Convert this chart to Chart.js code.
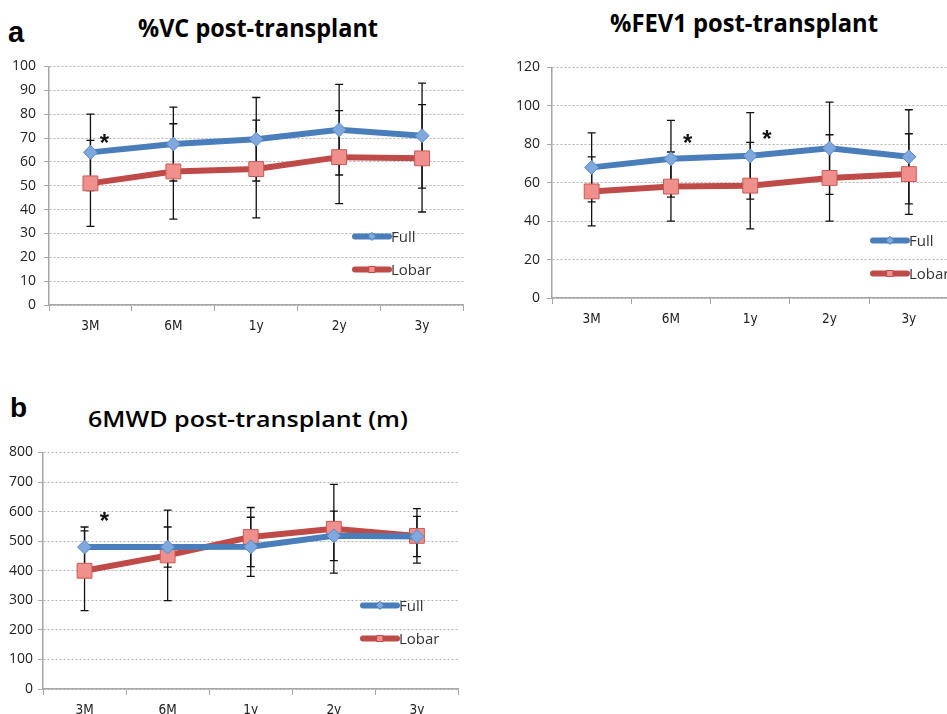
<!DOCTYPE html>
<html>
<head>
<meta charset="utf-8">
<script src="https://cdn.jsdelivr.net/npm/chart.js@4/dist/chart.umd.min.js"></script>
<style>
  html, body { margin: 0; padding: 0; background: #fff; overflow: hidden; width: 947px; height: 714px; }
  .box { position: absolute; }
  .lbl { position: absolute; white-space: nowrap; line-height: 1; color: #000; transform-origin: 0 0; }
  .letter { font-family: "Liberation Sans", Arial, sans-serif; font-weight: bold; }
  .ttl { font-family: "Open Sans", sans-serif; font-weight: 700; }
  .ttlb { font-family: "Open Sans", sans-serif; font-weight: 600; }
</style>
</head>
<body>
<div class="lbl letter" style="left:8px;top:18px;font-size:29px">a</div>
<div class="lbl ttl" data-w="240" style="left:138px;top:15px;font-size:25px">%VC post-transplant</div>
<div class="lbl ttl" data-w="268" style="left:610px;top:10px;font-size:25px">%FEV1 post-transplant</div>
<div class="lbl letter" style="left:10px;top:394px;font-size:28px">b</div>
<div class="lbl ttlb" data-w="320" style="left:88px;top:407px;font-size:22px">6MWD post-transplant (m)</div>

<div class="box" style="left:0;top:55px;width:475px;height:285px"><canvas id="vc" width="475" height="285"></canvas></div>
<div class="box" style="left:500px;top:56px;width:460px;height:277px"><canvas id="fev" width="460" height="277"></canvas></div>
<div class="box" style="left:0;top:441px;width:470px;height:283px"><canvas id="walk" width="470" height="283"></canvas></div>

<script>
// squeeze the titles to the width they have in the figure
document.querySelectorAll('.lbl[data-w]').forEach(function (el) {
  var w = el.getBoundingClientRect().width;
  el.style.transform = 'scaleX(' + (el.dataset.w / w) + ')';
});

var categories = ['3M', '6M', '1y', '2y', '3y'];

// %VC
var vcFull = [64, 67.5, 69.5, 73.5, 71];
var vcFullSd = [16, 15.5, 17.5, 19, 22];
var vcLobar = [51, 56, 57, 62, 61.5];
var vcLobarSd = [18, 20, 20.5, 19.5, 22.5];

// %FEV1
var fevFull = [68, 72.5, 74, 78, 73.5];
var fevFullSd = [18, 20, 22.5, 24, 24.5];
var fevLobar = [55.5, 58, 58.5, 62.5, 64.5];
var fevLobarSd = [18, 18, 22.5, 22.5, 21];

// 6MWD (m)
var walkFull = [480, 480, 481, 518, 516];
var walkFullSd = [68, 68, 100, 84, 68];
var walkLobar = [400, 452, 514, 542, 518];
var walkLobarSd = [135, 153, 100, 150, 92];

// significance stars: category index, value
var vcStars = [[0.17, 70]];
var fevStars = [[1.21, 83], [2.21, 85]];
var walkStars = [[0.24, 585]];

var BLUE = '#4a7ebb', RED = '#be4b48';
var AXIS = '#a6a6a6';

var errorBars = {
  id: 'errorBars',
  beforeDatasetsDraw: function (chart) {
    var ctx = chart.ctx;
    var x = chart.scales.x, y = chart.scales.y;
    ctx.save();
    ctx.strokeStyle = '#111';
    ctx.lineWidth = 1.3;
    chart.data.datasets.forEach(function (ds) {
      ds.sd.forEach(function (sd, i) {
        var px = x.getPixelForValue(i);
        var top = y.getPixelForValue(ds.data[i] + sd);
        var bot = y.getPixelForValue(ds.data[i] - sd);
        ctx.beginPath();
        ctx.moveTo(px, top); ctx.lineTo(px, bot);
        ctx.moveTo(px - 4, top); ctx.lineTo(px + 4, top);
        ctx.moveTo(px - 4, bot); ctx.lineTo(px + 4, bot);
        ctx.stroke();
      });
    });
    ctx.restore();
  }
};

var extras = {
  id: 'extras',
  afterDraw: function (chart, args, opts) {
    var ctx = chart.ctx, area = chart.chartArea;
    var x = chart.scales.x, y = chart.scales.y;
    ctx.save();
    // stars
    ctx.fillStyle = '#111';
    ctx.font = 'bold 24px "Liberation Sans", Arial, sans-serif';
    ctx.textAlign = 'center';
    ctx.textBaseline = 'middle';
    opts.stars.forEach(function (s) {
      var i0 = Math.floor(s[0]);
      var px = x.getPixelForValue(i0) + (s[0] - i0) * (x.getPixelForValue(1) - x.getPixelForValue(0));
      ctx.fillText('*', px, y.getPixelForValue(s[1]) + 6);
    });
    // legend inside the plot
    var lx = area.left + opts.legend[0], ly = area.top + opts.legend[1];
    ctx.font = '15px "Open Sans", sans-serif';
    ctx.textAlign = 'left';
    chart.data.datasets.forEach(function (ds, k) {
      var yy = ly + k * 33;
      ctx.strokeStyle = ds.borderColor;
      ctx.lineWidth = 6;
      ctx.lineCap = 'round';
      ctx.beginPath();
      ctx.moveTo(lx, yy); ctx.lineTo(lx + 34, yy);
      ctx.stroke();
      ctx.fillStyle = ds.pointBackgroundColor;
      ctx.strokeStyle = ds.borderColor;
      ctx.lineWidth = 1;
      ctx.beginPath();
      if (ds.pointStyle === 'rectRot') {
        ctx.moveTo(lx + 17, yy - 4); ctx.lineTo(lx + 21, yy); ctx.lineTo(lx + 17, yy + 4); ctx.lineTo(lx + 13, yy);
        ctx.closePath();
      } else {
        ctx.rect(lx + 14, yy - 3, 6, 6);
      }
      ctx.fill(); ctx.stroke();
      ctx.fillStyle = '#333';
      ctx.fillText(ds.label, lx + 36, yy + 1);
    });
    ctx.restore();
  }
};

function makeChart(id, full, fullSd, lobar, lobarSd, max, step, yWidth, yPad, pad, stars, legendPos) {
  return new Chart(document.getElementById(id), {
    type: 'line',
    data: {
      labels: categories,
      datasets: [
        { label: 'Full', data: full, sd: fullSd, borderColor: BLUE, borderWidth: 6,
          pointStyle: 'rectRot', pointRadius: 7, pointBackgroundColor: '#7fa8df',
          pointBorderColor: '#5a88c4', pointBorderWidth: 1, tension: 0 },
        { label: 'Lobar', data: lobar, sd: lobarSd, borderColor: RED, borderWidth: 6,
          pointStyle: 'rect', pointRadius: 10.5, pointBackgroundColor: '#f0908d',
          pointBorderColor: '#c85a57', pointBorderWidth: 1, tension: 0 }
      ]
    },
    options: {
      responsive: false,
      animation: false,
      layout: { padding: { top: 10, right: pad, left: 0, bottom: 0 } },
      plugins: {
        legend: { display: false },
        tooltip: { enabled: false },
        extras: { stars: stars, legend: legendPos }
      },
      scales: {
        x: {
          offset: true,
          grid: { offset: true, drawOnChartArea: false, tickLength: 6, color: AXIS },
          border: { color: AXIS, width: 1.5 },
          ticks: { color: '#222', padding: 7,
                   font: { family: '"Liberation Sans Narrow", "DejaVu Sans Condensed", sans-serif', size: 13.5 } },
          afterFit: function (s) { s.height = 35; s.paddingLeft = 0; s.paddingRight = 0; }
        },
        y: {
          min: 0, max: max,
          ticks: { stepSize: step, color: '#222', padding: yPad,
                   font: { family: '"Open Sans", sans-serif', size: 14 } },
          grid: { color: '#b3b3b3', tickLength: 5, tickColor: AXIS, tickBorderDash: [] },
          border: { color: AXIS, width: 1.5, dash: [2, 2] },
          afterFit: function (s) { s.width = yWidth; s.paddingTop = 0; s.paddingBottom = 0; }
        }
      }
    },
    plugins: [errorBars, extras]
  });
}

makeChart('vc', vcFull, vcFullSd, vcLobar, vcLobarSd, 100, 10, 49, 8, 10, vcStars, [306, 170]);
makeChart('fev', fevFull, fevFullSd, fevLobar, fevLobarSd, 120, 20, 52, 7, 5, fevStars, [321, 173]);
makeChart('walk', walkFull, walkFullSd, walkLobar, walkLobarSd, 800, 100, 43, 5, 10, walkStars, [320, 153]);
</script>
</body>
</html>
